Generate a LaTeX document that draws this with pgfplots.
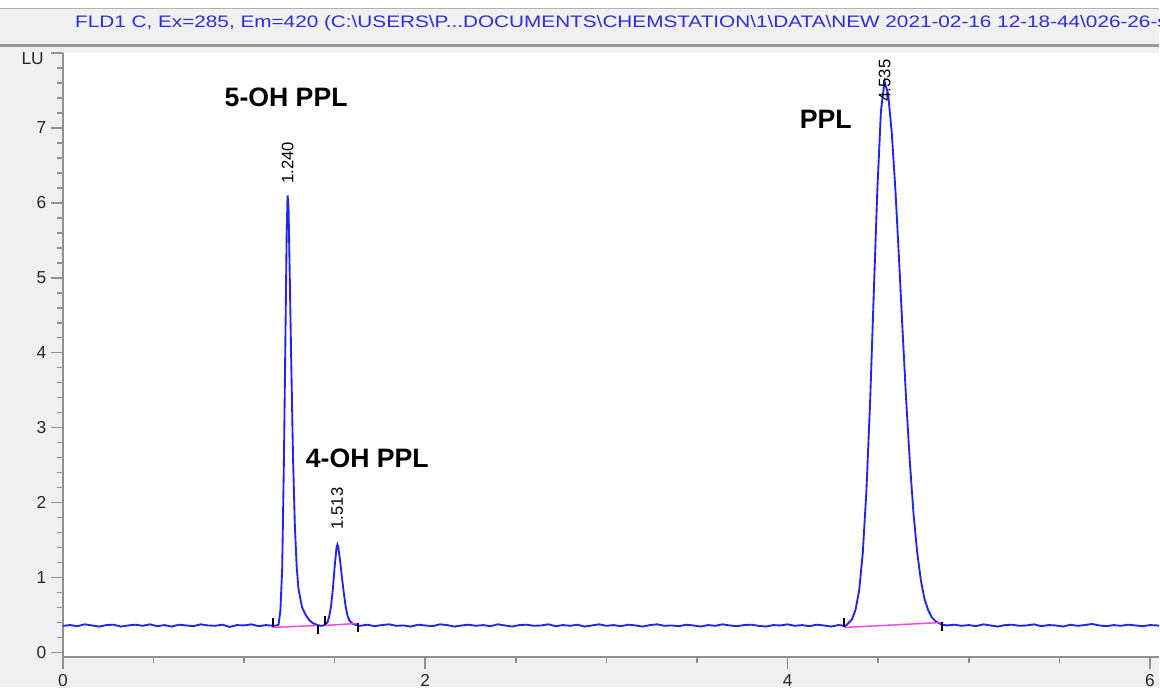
\documentclass[border=0pt]{standalone}
\usepackage{graphicx}
\usepackage{pgfplots}
\pgfplotsset{compat=1.18}
\usepackage{fontspec}
\setmainfont{Liberation Sans}

\definecolor{bggray}{RGB}{240,240,240}
\definecolor{axgray}{RGB}{145,145,145}
\definecolor{trace}{RGB}{35,35,245}
\definecolor{basepink}{RGB}{240,70,230}
\definecolor{titleblue}{RGB}{45,45,225}

\begin{document}
\begin{tikzpicture}
% frame in screen pixels (1 px = 0.75pt), origin bottom left
\begin{scope}[x=0.75pt,y=0.75pt]
  \path[use as bounding box] (0,0) rectangle (1160,688);
  \clip (0,0) rectangle (1160,688);
  \fill[bggray] (0,0) rectangle (1160,688);
\end{scope}

\begin{axis}[
  at={(47.25pt,22.5pt)}, anchor=south west,
  scale only axis, width=822.75pt, height=453.75pt,
  xmin=0, xmax=6.05, ymin=-0.0667, ymax=8,
  axis x line=bottom, axis y line=left,
  axis line style={-, axgray, line width=1.5pt},
  axis background/.style={fill=white},
  tick align=outside,
  major tick length=9pt, minor tick length=4.5pt,
  tick style={axgray, line width=1.2pt},
  xtick={0,2,4,6}, minor x tick num=3,
  ytick={0,1,...,8}, yticklabels={0,1,2,3,4,5,6,7,},
  minor y tick num=4,
  /pgf/number format/assume math mode=true,
  ticklabel style={font=\fontsize{13}{15}\selectfont, text=black!85},
  clip=false,
]
% signal trace
\addplot[trace, line width=1.4pt] coordinates {
(0.00,0.355) (0.04,0.365) (0.08,0.350) (0.12,0.375) (0.16,0.360) (0.20,0.345)
(0.24,0.365) (0.28,0.370) (0.32,0.345) (0.36,0.360) (0.40,0.370) (0.44,0.355)
(0.48,0.375) (0.52,0.350) (0.56,0.365) (0.60,0.345) (0.64,0.370) (0.68,0.360)
(0.72,0.350) (0.76,0.375) (0.80,0.360) (0.84,0.355) (0.88,0.370) (0.92,0.340)
(0.96,0.365) (1.00,0.360) (1.04,0.375) (1.08,0.350) (1.12,0.365) (1.16,0.355)
(1.18,0.36) (1.19,0.37) (1.20,0.55) (1.21,1.10) (1.22,2.60) (1.23,4.60)
(1.235,5.60) (1.24,6.10) (1.245,5.95) (1.25,5.30) (1.26,3.90) (1.27,2.60)
(1.28,1.70) (1.29,1.15) (1.30,0.85) (1.32,0.60) (1.34,0.50) (1.36,0.43)
(1.38,0.39) (1.40,0.37) (1.42,0.355)
(1.44,0.36) (1.46,0.40) (1.47,0.48) (1.48,0.62) (1.49,0.85) (1.50,1.15)
(1.51,1.40) (1.515,1.44) (1.52,1.40) (1.53,1.22) (1.54,1.00) (1.55,0.80)
(1.56,0.62) (1.57,0.50) (1.58,0.43) (1.60,0.38) (1.62,0.365) (1.64,0.355)
(1.68,0.370) (1.72,0.350) (1.76,0.365) (1.80,0.375) (1.84,0.355) (1.88,0.360)
(1.92,0.345) (1.96,0.370) (2.00,0.360) (2.04,0.350) (2.08,0.375) (2.12,0.365)
(2.16,0.345) (2.20,0.360) (2.24,0.370) (2.28,0.355) (2.32,0.365) (2.36,0.350)
(2.40,0.375) (2.44,0.360) (2.48,0.345) (2.52,0.365) (2.56,0.370) (2.60,0.355)
(2.64,0.360) (2.68,0.375) (2.72,0.350) (2.76,0.365) (2.80,0.355) (2.84,0.370)
(2.88,0.345) (2.92,0.360) (2.96,0.375) (3.00,0.355) (3.04,0.365) (3.08,0.350)
(3.12,0.370) (3.16,0.360) (3.20,0.345) (3.24,0.365) (3.28,0.375) (3.32,0.355)
(3.36,0.360) (3.40,0.350) (3.44,0.370) (3.48,0.360) (3.52,0.345) (3.56,0.365)
(3.60,0.355) (3.64,0.375) (3.68,0.360) (3.72,0.350) (3.76,0.365) (3.80,0.370)
(3.84,0.355) (3.88,0.345) (3.92,0.365) (3.96,0.360) (4.00,0.375) (4.04,0.355)
(4.08,0.365) (4.12,0.350) (4.16,0.370) (4.20,0.360) (4.24,0.345) (4.28,0.365)
(4.32,0.355)
(4.335,0.39) (4.355,0.44) (4.375,0.57) (4.395,0.83) (4.415,1.33) (4.435,2.16)
(4.455,3.32) (4.475,4.75) (4.495,6.16) (4.515,7.22) (4.535,7.62) (4.555,7.45)
(4.575,6.93) (4.595,6.17) (4.615,5.25) (4.635,4.27) (4.655,3.34) (4.675,2.53)
(4.695,1.85) (4.715,1.34) (4.735,0.97) (4.755,0.72) (4.775,0.57) (4.795,0.47)
(4.815,0.42) (4.835,0.39) (4.855,0.37)
(4.88,0.360) (4.92,0.370) (4.96,0.355) (5.00,0.365) (5.04,0.350) (5.08,0.375)
(5.12,0.360) (5.16,0.345) (5.20,0.365) (5.24,0.370) (5.28,0.355) (5.32,0.360)
(5.36,0.375) (5.40,0.350) (5.44,0.365) (5.48,0.360) (5.52,0.345) (5.56,0.370)
(5.60,0.355) (5.64,0.365) (5.68,0.380) (5.72,0.360) (5.76,0.350) (5.80,0.365)
(5.84,0.355) (5.88,0.370) (5.92,0.360) (5.96,0.350) (6.00,0.365) (6.04,0.360)
(6.05,0.355)
};
% integration baselines
\addplot[basepink, line width=1.1pt] coordinates {(1.158,0.333) (1.406,0.36)};
\addplot[basepink, line width=1.1pt] coordinates {(1.445,0.36) (1.627,0.387)};
\addplot[basepink, line width=1.1pt] coordinates {(4.313,0.333) (4.853,0.40)};
% start / end markers
\addplot[black, line width=1.5pt] coordinates {(1.158,0.333) (1.158,0.453)};
\addplot[black, line width=1.5pt] coordinates {(1.406,0.36) (1.406,0.24)};
\addplot[black, line width=1.5pt] coordinates {(1.445,0.36) (1.445,0.48)};
\addplot[black, line width=1.5pt] coordinates {(1.627,0.387) (1.627,0.267)};
\addplot[black, line width=1.5pt] coordinates {(4.313,0.333) (4.313,0.453)};
\addplot[black, line width=1.5pt] coordinates {(4.853,0.40) (4.853,0.28)};

% retention times
\node[rotate=90, anchor=west, inner sep=0pt, font=\fontsize{12.5}{14}\selectfont]
  at (axis cs:1.24,6.25) {1.240};
\node[rotate=90, anchor=west, inner sep=0pt, font=\fontsize{12.5}{14}\selectfont]
  at (axis cs:1.514,1.64) {1.513};
\node[rotate=90, anchor=west, inner sep=0pt, font=\fontsize{12.5}{14}\selectfont]
  at (axis cs:4.535,7.35) {4.535};

% peak names
\node[font=\fontsize{20}{24}\selectfont\bfseries] at (axis cs:1.232,7.41) {5-OH PPL};
\node[font=\fontsize{20}{24}\selectfont\bfseries] at (axis cs:1.68,2.59) {4-OH PPL};
\node[font=\fontsize{20}{24}\selectfont\bfseries] at (axis cs:4.21,7.11) {PPL};
\end{axis}

% title bar
\begin{scope}[x=0.75pt,y=0.75pt]
  \clip (0,0) rectangle (1160,688);
  \fill[bggray] (0,636) rectangle (1160,688);
  \fill[white] (0,679) rectangle (1160,688);
  \draw[black!30, line width=0.75pt] (0,679) -- (1160,679);
  \fill[black!40] (0,641) rectangle (1160,643.5);
  \node[anchor=west, inner sep=0pt, text=titleblue, font=\fontsize{12.5}{14}\selectfont]
    at (75,665) {\scalebox{1.245}[1]{FLD1 C, Ex=285, Em=420 (C:\textbackslash USERS\textbackslash P...DOCUMENTS\textbackslash CHEMSTATION\textbackslash 1\textbackslash DATA\textbackslash NEW 2021-02-16 12-18-44\textbackslash 026-26-s}};
  \node[anchor=east, inner sep=0pt, text=black!85, font=\fontsize{13}{15}\selectfont]
    at (44,629) {LU};
\end{scope}
\end{tikzpicture}
\end{document}
